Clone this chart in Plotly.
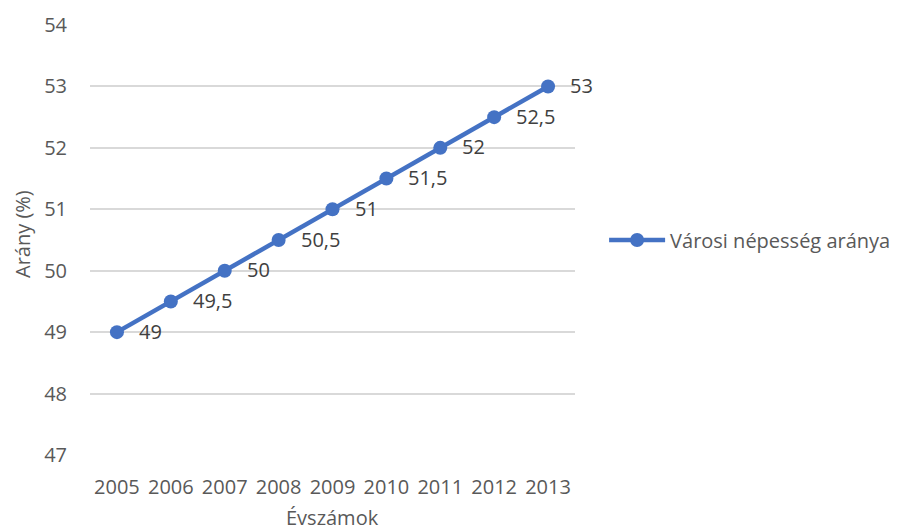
import plotly.graph_objects as go

years = ["2005", "2006", "2007", "2008", "2009", "2010", "2011", "2012", "2013"]
values = [49, 49.5, 50, 50.5, 51, 51.5, 52, 52.5, 53]
labels = ["49", "49,5", "50", "50,5", "51", "51,5", "52", "52,5", "53"]
y_ticks = [47, 48, 49, 50, 51, 52, 53, 54]

FONT = "Open Sans"
GREY = "#595959"
BLUE = "#4472C4"
FS = 20

fig = go.Figure()
fig.add_trace(go.Scatter(
    x=years, y=values, mode="lines+markers",
    name="Városi népesség aránya",
    line=dict(color=BLUE, width=4.5),
    marker=dict(color=BLUE, size=14),
))

for i, (v, lab) in enumerate(zip(values, labels)):
    fig.add_annotation(x=i, y=v, xref="x", yref="y", text=lab, showarrow=False,
                       xanchor="left", yanchor="middle", xshift=20, yshift=1,
                       font=dict(family=FONT, size=FS, color="#404040"))

# axis titles
fig.add_annotation(x=0, y=0.5, xref="paper", yref="paper", text="Arány (%)",
                   showarrow=False, textangle=-90, xanchor="center", yanchor="middle",
                   xshift=-68, yshift=6, font=dict(family=FONT, size=FS, color=GREY))
fig.add_annotation(x=0.5, y=0, xref="paper", yref="paper", text="Évszámok",
                   showarrow=False, xanchor="center", yanchor="middle",
                   yshift=-62, font=dict(family=FONT, size=FS, color=GREY))

fig.update_layout(
    width=904, height=531,
    margin=dict(l=90, r=329, t=25, b=76, autoexpand=False),
    paper_bgcolor="white", plot_bgcolor="white",
    font=dict(family=FONT, size=FS, color=GREY),
    showlegend=True,
    legend=dict(x=1.06, y=0.5, xanchor="left", yanchor="middle",
                font=dict(family=FONT, size=FS, color=GREY),
                itemwidth=56),
    xaxis=dict(type="category", range=[-0.5, 8.5], showgrid=False, automargin=False,
               showline=False, zeroline=False, ticks="", ticklabelstandoff=18,
               tickfont=dict(family=FONT, size=FS, color=GREY)),
    yaxis=dict(range=[47, 54], tickvals=y_ticks, showgrid=True, automargin=False,
               gridcolor="#D9D9D9", gridwidth=1.5, zeroline=False, showline=False,
               ticks="", ticklabelstandoff=22,
               tickfont=dict(family=FONT, size=FS, color=GREY)),
)

fig.write_html("out.html", config={"displayModeBar": False},
               post_script="document.body.style.margin='0';document.body.style.overflow='hidden';")
